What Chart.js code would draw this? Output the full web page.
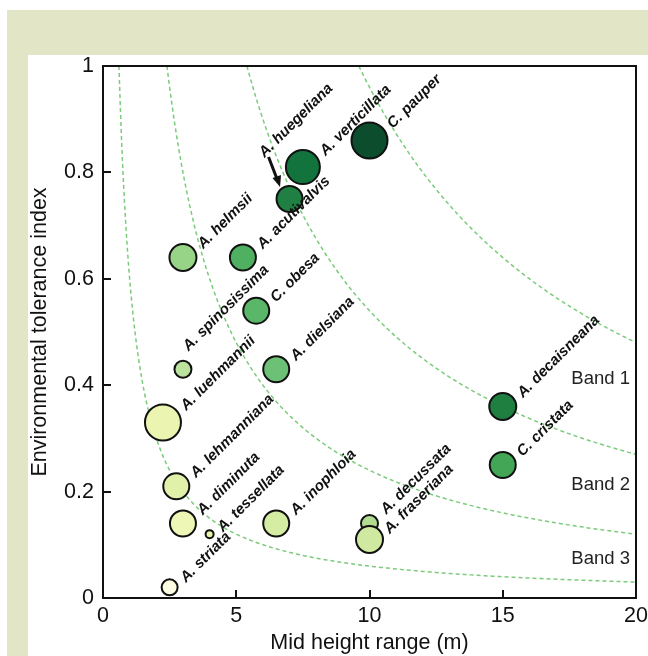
<!DOCTYPE html>
<html>
<head>
<meta charset="utf-8">
<script src="https://cdn.jsdelivr.net/npm/chart.js@4.4.1/dist/chart.umd.min.js"></script>
<style>
  html, body { margin: 0; padding: 0; background: #fff; }
  #wrap { width: 648px; height: 656px; }
</style>
</head>
<body>
<div id="wrap"><canvas id="plot"></canvas></div>
<script>
// species
const species = ['C. pauper', 'A. verticillata', 'A. huegeliana', 'A. helmsii', 'A. acutivalvis',
  'C. obesa', 'A. spinosissima', 'A. dielsiana', 'A. luehmannii', 'A. lehmanniana', 'A. diminuta',
  'A. tessellata', 'A. striata', 'A. inophloia', 'A. decussata', 'A. fraseriana', 'A. decaisneana', 'C. cristata'];
const midHeight = [10, 7.5, 7, 3, 5.25, 5.75, 3, 6.5, 2.25, 2.75, 3, 4, 2.5, 6.5, 10, 10, 15, 15];
const tolerance = [0.86, 0.81, 0.75, 0.64, 0.64, 0.54, 0.43, 0.43, 0.33, 0.21, 0.14, 0.12, 0.02, 0.14, 0.14, 0.11, 0.36, 0.25];
const bubbleSize = [18, 17, 13, 13.5, 13, 13, 8.5, 13, 18, 13, 13, 4, 8, 13, 8.5, 13.5, 13.5, 13];

// band boundaries: x * y = const
const bandCurveConstants = [0.6, 2.4, 5.4, 9.6];
const bandLabels = ['Band 1', 'Band 2', 'Band 3'];
const bandLabelY = [0.412, 0.213, 0.073];

const xTicks = [0, 5, 10, 15, 20];
const yTicks = [0, 0.2, 0.4, 0.6, 0.8, 1];

const fillColors = ['#0b4d2c', '#13733c', '#208044', '#98d488', '#50b062', '#5ab668', '#bce39d',
  '#6cc176', '#ebf5b1', '#e2f1aa', '#eef7b6', '#e8f3a8', '#fdfde2', '#d5eda2', '#b2dd91', '#cfeaa0',
  '#1e7f41', '#42a656'];

// label nudges for a few crowded names
const labelNudge = {
  'A. huegeliana': { dx: -45, dy: -33 },
  'A. spinosissima': { dx: -11, dy: -13 },
  'A. decussata': { dx: 0, dy: -4 },
  'A. fraseriana': { dx: 0, dy: 3 }
};

const FONT = 'Arial, "Liberation Sans", sans-serif';

const curveSets = bandCurveConstants.map(c => {
  const pts = [];
  const n = 240;
  for (let i = 0; i <= n; i++) {
    const x = c + (20 - c) * Math.pow(i / n, 2);
    pts.push({ x: x, y: c / x });
  }
  return {
    type: 'line',
    data: pts,
    borderColor: '#7ccb7c',
    borderWidth: 1.5,
    borderDash: [4, 3],
    pointRadius: 0,
    fill: false,
    tension: 0,
    order: 2
  };
});

const bubbleSet = {
  type: 'bubble',
  data: species.map((s, i) => ({ x: midHeight[i], y: tolerance[i], r: bubbleSize[i] })),
  backgroundColor: fillColors,
  borderColor: '#111',
  borderWidth: 2,
  order: 1
};

const framePlugin = {
  id: 'frame',
  beforeDraw(chart) {
    const ctx = chart.ctx;
    ctx.save();
    ctx.fillStyle = '#fff';
    ctx.fillRect(0, 0, chart.width, chart.height);
    ctx.fillStyle = '#e2e6c7';
    ctx.fillRect(7, 10, chart.width - 7, chart.height - 10);
    ctx.fillStyle = '#fff';
    ctx.fillRect(28, 55, chart.width - 28, chart.height - 55);
    ctx.restore();
  },
  afterDraw(chart) {
    const { ctx, chartArea: a, scales } = chart;
    ctx.save();
    ctx.strokeStyle = '#111';
    ctx.lineWidth = 2;
    ctx.strokeRect(a.left, a.top, a.right - a.left, a.bottom - a.top);
    ctx.beginPath();
    yTicks.slice(1, -1).forEach(v => {
      const py = Math.round(scales.y.getPixelForValue(v));
      ctx.moveTo(a.left, py);
      ctx.lineTo(a.left + 8, py);
    });
    xTicks.slice(1, -1).forEach(v => {
      const px = Math.round(scales.x.getPixelForValue(v));
      ctx.moveTo(px, a.bottom);
      ctx.lineTo(px, a.bottom - 8);
    });
    ctx.stroke();

    // band names
    ctx.fillStyle = '#222';
    ctx.font = '18.5px ' + FONT;
    ctx.textAlign = 'right';
    ctx.textBaseline = 'middle';
    bandLabels.forEach((t, i) => {
      ctx.fillText(t, a.right - 6, scales.y.getPixelForValue(bandLabelY[i]));
    });
    ctx.restore();
  }
};

const labelPlugin = {
  id: 'speciesLabels',
  afterDatasetsDraw(chart) {
    const ctx = chart.ctx;
    const meta = chart.getDatasetMeta(chart.data.datasets.length - 1);
    ctx.save();
    ctx.fillStyle = '#111';
    ctx.font = 'italic bold 15px ' + FONT;
    ctx.textAlign = 'left';
    ctx.textBaseline = 'middle';
    meta.data.forEach((el, i) => {
      const r = bubbleSize[i] + 1;
      const nudge = labelNudge[species[i]] || { dx: 0, dy: 0 };
      const ax = el.x + 0.707 * r + 7 + nudge.dx;
      const ay = el.y - 0.707 * r - 1 + nudge.dy;
      ctx.save();
      ctx.translate(ax, ay);
      ctx.rotate(-Math.PI / 4);
      ctx.fillText(species[i], 0, 0);
      ctx.restore();

      if (species[i] === 'A. huegeliana') {
        // arrow from the name down to its bubble
        ctx.strokeStyle = '#111';
        ctx.lineWidth = 3;
        ctx.beginPath();
        ctx.moveTo(el.x - 21, el.y - 42);
        ctx.lineTo(el.x - 12.5, el.y - 20);
        ctx.stroke();
        ctx.beginPath();
        ctx.moveTo(el.x - 9.5, el.y - 12);
        ctx.lineTo(el.x - 17, el.y - 21);
        ctx.lineTo(el.x - 8.5, el.y - 24);
        ctx.closePath();
        ctx.fill();
      }
    });
    ctx.restore();
  }
};

new Chart(document.getElementById('plot'), {
  data: { datasets: [...curveSets, bubbleSet] },
  options: {
    responsive: true,
    maintainAspectRatio: false,
    animation: false,
    layout: { autoPadding: false, padding: { left: 0, top: 66, right: 12, bottom: 0 } },
    plugins: { legend: { display: false }, tooltip: { enabled: false } },
    scales: {
      x: {
        type: 'linear',
        min: 0,
        max: 20,
        afterBuildTicks: s => { s.ticks = xTicks.map(v => ({ value: v })); },
        afterFit: s => { s.height = 58; s.paddingLeft = 0; s.paddingRight = 0; },
        grid: { display: false, drawTicks: false },
        border: { display: false },
        ticks: { color: '#111', font: { size: 21.5, family: FONT }, padding: 5, callback: v => String(v) },
        title: {
          display: true,
          text: 'Mid height range (m)',
          color: '#111',
          font: { size: 21.5, family: FONT },
          padding: { top: 0, bottom: 0 }
        }
      },
      y: {
        type: 'linear',
        min: 0,
        max: 1,
        afterBuildTicks: s => { s.ticks = yTicks.map(v => ({ value: v })); },
        afterFit: s => { s.width = 103; s.paddingTop = 0; s.paddingBottom = 0; },
        grid: { display: false, drawTicks: false },
        border: { display: false },
        ticks: { color: '#111', font: { size: 21.5, family: FONT }, padding: 9, callback: v => String(+(+v).toFixed(1)) },
        title: {
          display: true,
          text: 'Environmental tolerance index',
          color: '#111',
          font: { size: 21.5, family: FONT },
          padding: { top: 27, bottom: 0 }
        }
      }
    }
  },
  plugins: [framePlugin, labelPlugin]
});
</script>
</body>
</html>
